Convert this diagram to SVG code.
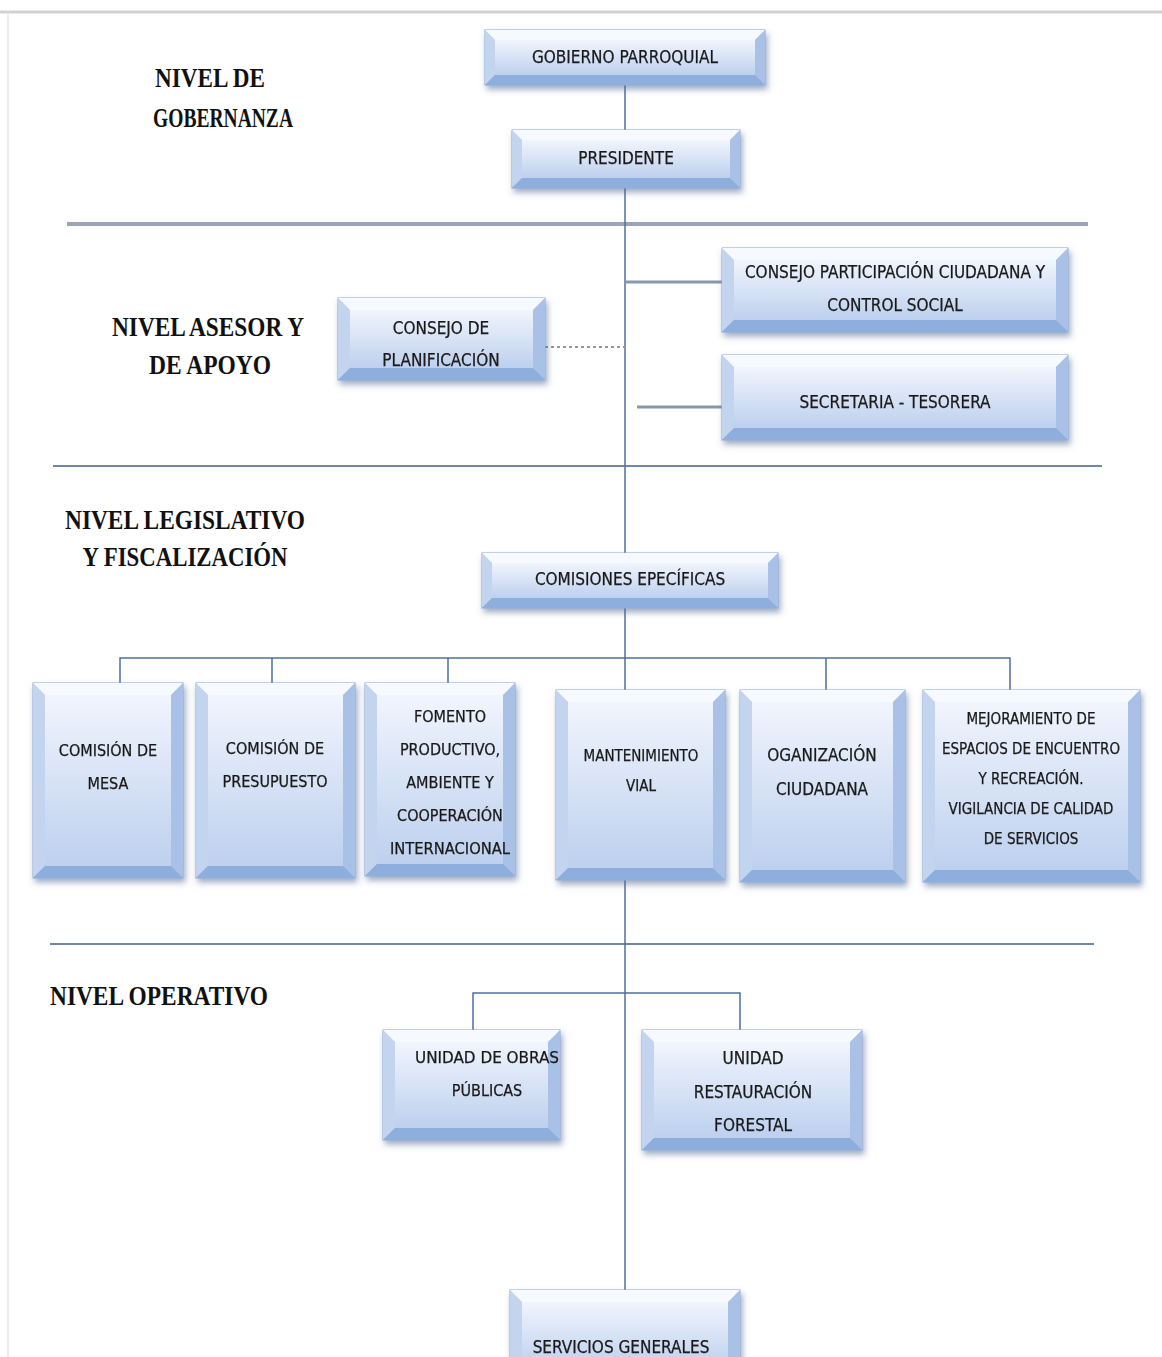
<svg xmlns="http://www.w3.org/2000/svg" width="1162" height="1357" viewBox="0 0 1162 1357">
<defs>
<linearGradient id="gOut" x1="0" y1="0" x2="0" y2="1"><stop offset="0" stop-color="#dfe9f8"/><stop offset="1" stop-color="#9fbbe4"/></linearGradient>
<linearGradient id="gIn" x1="0" y1="0" x2="0" y2="1"><stop offset="0" stop-color="#f1f5fd"/><stop offset="1" stop-color="#bdd0ee"/></linearGradient>
<filter id="sh" x="-10%" y="-10%" width="125%" height="130%"><feGaussianBlur in="SourceAlpha" stdDeviation="3"/><feOffset dx="2" dy="4" result="b"/><feFlood flood-color="#4a6793" flood-opacity="0.55"/><feComposite in2="b" operator="in"/><feMerge><feMergeNode/><feMergeNode in="SourceGraphic"/></feMerge></filter>
</defs>
<style>
.o{fill:url(#gOut);stroke:#8eaad6;stroke-width:1}
.i{fill:url(#gIn)}
.bt{fill:#f6f9fe}
.bl{fill:#c3d4ef}
.br{fill:#a9c1e6}
.bb{fill:#8eaedd}
.t{font-family:"Liberation Sans Narrow","DejaVu Sans Condensed","Liberation Sans",sans-serif;font-size:17px;fill:#1a1a1a;stroke:#1a1a1a;stroke-width:0.25;text-anchor:middle}
.s{font-size:15px}
.m{font-size:16px}
.lv{font-family:"Liberation Serif",serif;font-weight:bold;font-size:28px;fill:#111;text-anchor:middle}
.c{stroke:#4f6f9e;stroke-width:1.5;fill:none}
.cg{stroke:#8797b0;stroke-width:3;fill:none}
.sep{stroke:#7186a8;stroke-width:2}
</style>
<rect width="1162" height="1357" fill="#fff"/>
<line x1="0" y1="12" x2="1162" y2="12" stroke="#d2d2d2" stroke-width="3"/>
<line x1="8" y1="14" x2="8" y2="1357" stroke="#eeeeee" stroke-width="2"/>
<g id="separators">
<line x1="67" y1="224" x2="1088" y2="224" stroke="#9aa4b4" stroke-width="4"/>
<line class="sep" x1="53" y1="466" x2="1102" y2="466"/>
<line class="sep" x1="50" y1="944" x2="1094" y2="944"/>
</g>
<g id="levels">
<text class="lv" x="210" y="87" textLength="110" lengthAdjust="spacingAndGlyphs">NIVEL DE</text>
<text class="lv" x="223" y="127" textLength="140" lengthAdjust="spacingAndGlyphs">GOBERNANZA</text>
<text class="lv" x="208" y="336" textLength="192" lengthAdjust="spacingAndGlyphs">NIVEL ASESOR Y</text>
<text class="lv" x="210" y="374" textLength="122" lengthAdjust="spacingAndGlyphs">DE APOYO</text>
<text class="lv" x="185" y="529" textLength="240" lengthAdjust="spacingAndGlyphs">NIVEL LEGISLATIVO</text>
<text class="lv" x="185" y="566" textLength="205" lengthAdjust="spacingAndGlyphs">Y FISCALIZACIÓN</text>
<text class="lv" x="159" y="1005" textLength="218" lengthAdjust="spacingAndGlyphs">NIVEL OPERATIVO</text>
</g>
<g id="connectors">
<line class="c" x1="625" y1="85" x2="625" y2="1290"/>
<line class="cg" x1="625" y1="282" x2="722" y2="282"/>
<line class="cg" x1="637" y1="407" x2="722" y2="407"/>
<line x1="545" y1="347" x2="628" y2="347" stroke="#8797b0" stroke-width="2" stroke-dasharray="3 3"/>
<path class="c" d="M120 683V658H1010V690M272 658V683M448 658V683M826 658V690"/>
<path class="c" d="M473 1030V993H740V1030"/>
</g>
<g id="n-gobierno" filter="url(#sh)">
<rect class="o" x="485" y="30" width="280" height="55"/>
<polygon class="bt" points="485,30 765,30 755,40 495,40"/><polygon class="bl" points="485,30 495,40 495,75 485,85"/><polygon class="br" points="765,30 765,85 755,75 755,40"/><polygon class="bb" points="485,85 495,75 755,75 765,85"/>
<rect class="i" x="495" y="40" width="260" height="35"/>
<text class="t" x="625" y="63">GOBIERNO PARROQUIAL</text>
</g>
<g id="n-presidente" filter="url(#sh)">
<rect class="o" x="512" y="130" width="228" height="58"/>
<polygon class="bt" points="512,130 740,130 730,140 522,140"/><polygon class="bl" points="512,130 522,140 522,178 512,188"/><polygon class="br" points="740,130 740,188 730,178 730,140"/><polygon class="bb" points="512,188 522,178 730,178 740,188"/>
<rect class="i" x="522" y="140" width="208" height="38"/>
<text class="t" x="626" y="164">PRESIDENTE</text>
</g>
<g id="n-planificacion" filter="url(#sh)">
<rect class="o" x="338" y="298" width="207" height="82"/>
<polygon class="bt" points="338,298 545,298 533,310 350,310"/><polygon class="bl" points="338,298 350,310 350,368 338,380"/><polygon class="br" points="545,298 545,380 533,368 533,310"/><polygon class="bb" points="338,380 350,368 533,368 545,380"/>
<rect class="i" x="350" y="310" width="183" height="58"/>
<text class="t" x="441" y="334">CONSEJO DE</text>
<text class="t" x="441" y="366">PLANIFICACIÓN</text>
</g>
<g id="n-participacion" filter="url(#sh)">
<rect class="o" x="722" y="248" width="346" height="84"/>
<polygon class="bt" points="722,248 1068,248 1056,260 734,260"/><polygon class="bl" points="722,248 734,260 734,320 722,332"/><polygon class="br" points="1068,248 1068,332 1056,320 1056,260"/><polygon class="bb" points="722,332 734,320 1056,320 1068,332"/>
<rect class="i" x="734" y="260" width="322" height="60"/>
<text class="t" x="895" y="278">CONSEJO PARTICIPACIÓN CIUDADANA Y</text>
<text class="t" x="895" y="311">CONTROL SOCIAL</text>
</g>
<g id="n-secretaria" filter="url(#sh)">
<rect class="o" x="722" y="355" width="346" height="85"/>
<polygon class="bt" points="722,355 1068,355 1056,367 734,367"/><polygon class="bl" points="722,355 734,367 734,428 722,440"/><polygon class="br" points="1068,355 1068,440 1056,428 1056,367"/><polygon class="bb" points="722,440 734,428 1056,428 1068,440"/>
<rect class="i" x="734" y="367" width="322" height="61"/>
<text class="t" x="895" y="408">SECRETARIA - TESORERA</text>
</g>
<g id="n-comisiones" filter="url(#sh)">
<rect class="o" x="482" y="553" width="296" height="55"/>
<polygon class="bt" points="482,553 778,553 768,563 492,563"/><polygon class="bl" points="482,553 492,563 492,598 482,608"/><polygon class="br" points="778,553 778,608 768,598 768,563"/><polygon class="bb" points="482,608 492,598 768,598 778,608"/>
<rect class="i" x="492" y="563" width="276" height="35"/>
<text class="t" x="630" y="585">COMISIONES EPECÍFICAS</text>
</g>
<g id="n-mesa" filter="url(#sh)">
<rect class="o" x="33" y="683" width="150" height="195"/>
<polygon class="bt" points="33,683 183,683 171,695 45,695"/><polygon class="bl" points="33,683 45,695 45,866 33,878"/><polygon class="br" points="183,683 183,878 171,866 171,695"/><polygon class="bb" points="33,878 45,866 171,866 183,878"/>
<rect class="i" x="45" y="695" width="126" height="171"/>
<text class="t m" x="108" y="756">COMISIÓN DE</text>
<text class="t m" x="108" y="789">MESA</text>
</g>
<g id="n-presupuesto" filter="url(#sh)">
<rect class="o" x="196" y="683" width="159" height="195"/>
<polygon class="bt" points="196,683 355,683 343,695 208,695"/><polygon class="bl" points="196,683 208,695 208,866 196,878"/><polygon class="br" points="355,683 355,878 343,866 343,695"/><polygon class="bb" points="196,878 208,866 343,866 355,878"/>
<rect class="i" x="208" y="695" width="135" height="171"/>
<text class="t m" x="275" y="754">COMISIÓN DE</text>
<text class="t m" x="275" y="787">PRESUPUESTO</text>
</g>
<g id="n-fomento" filter="url(#sh)">
<rect class="o" x="365" y="683" width="150" height="193"/>
<polygon class="bt" points="365,683 515,683 503,695 377,695"/><polygon class="bl" points="365,683 377,695 377,864 365,876"/><polygon class="br" points="515,683 515,876 503,864 503,695"/><polygon class="bb" points="365,876 377,864 503,864 515,876"/>
<rect class="i" x="377" y="695" width="126" height="169"/>
<text class="t m" x="450" y="722">FOMENTO</text>
<text class="t m" x="450" y="755">PRODUCTIVO,</text>
<text class="t m" x="450" y="788">AMBIENTE Y</text>
<text class="t m" x="450" y="821">COOPERACIÓN</text>
<text class="t m" x="450" y="854" textLength="120" lengthAdjust="spacingAndGlyphs">INTERNACIONAL</text>
</g>
<g id="n-vial" filter="url(#sh)">
<rect class="o" x="556" y="690" width="169" height="190"/>
<polygon class="bt" points="556,690 725,690 713,702 568,702"/><polygon class="bl" points="556,690 568,702 568,868 556,880"/><polygon class="br" points="725,690 725,880 713,868 713,702"/><polygon class="bb" points="556,880 568,868 713,868 725,880"/>
<rect class="i" x="568" y="702" width="145" height="166"/>
<text class="t s" x="641" y="761">MANTENIMIENTO</text>
<text class="t s" x="641" y="791">VIAL</text>
</g>
<g id="n-organizacion" filter="url(#sh)">
<rect class="o" x="740" y="690" width="165" height="192"/>
<polygon class="bt" points="740,690 905,690 893,702 752,702"/><polygon class="bl" points="740,690 752,702 752,870 740,882"/><polygon class="br" points="905,690 905,882 893,870 893,702"/><polygon class="bb" points="740,882 752,870 893,870 905,882"/>
<rect class="i" x="752" y="702" width="141" height="168"/>
<text class="t" x="822" y="761">OGANIZACIÓN</text>
<text class="t" x="822" y="795">CIUDADANA</text>
</g>
<g id="n-mejoramiento" filter="url(#sh)">
<rect class="o" x="923" y="690" width="217" height="192"/>
<polygon class="bt" points="923,690 1140,690 1128,702 935,702"/><polygon class="bl" points="923,690 935,702 935,870 923,882"/><polygon class="br" points="1140,690 1140,882 1128,870 1128,702"/><polygon class="bb" points="923,882 935,870 1128,870 1140,882"/>
<rect class="i" x="935" y="702" width="193" height="168"/>
<text class="t s" x="1031" y="724">MEJORAMIENTO DE</text>
<text class="t s" x="1031" y="754">ESPACIOS DE ENCUENTRO</text>
<text class="t s" x="1031" y="784">Y RECREACIÓN.</text>
<text class="t s" x="1031" y="814">VIGILANCIA DE CALIDAD</text>
<text class="t s" x="1031" y="844">DE SERVICIOS</text>
</g>
<g id="n-obras" filter="url(#sh)">
<rect class="o" x="383" y="1030" width="177" height="110"/>
<polygon class="bt" points="383,1030 560,1030 548,1042 395,1042"/><polygon class="bl" points="383,1030 395,1042 395,1128 383,1140"/><polygon class="br" points="560,1030 560,1140 548,1128 548,1042"/><polygon class="bb" points="383,1140 395,1128 548,1128 560,1140"/>
<rect class="i" x="395" y="1042" width="153" height="86"/>
<text class="t m" x="487" y="1063" textLength="144" lengthAdjust="spacingAndGlyphs">UNIDAD DE OBRAS</text>
<text class="t m" x="487" y="1096">PÚBLICAS</text>
</g>
<g id="n-restauracion" filter="url(#sh)">
<rect class="o" x="642" y="1030" width="220" height="120"/>
<polygon class="bt" points="642,1030 862,1030 850,1042 654,1042"/><polygon class="bl" points="642,1030 654,1042 654,1138 642,1150"/><polygon class="br" points="862,1030 862,1150 850,1138 850,1042"/><polygon class="bb" points="642,1150 654,1138 850,1138 862,1150"/>
<rect class="i" x="654" y="1042" width="196" height="96"/>
<text class="t" x="753" y="1064">UNIDAD</text>
<text class="t" x="753" y="1098">RESTAURACIÓN</text>
<text class="t" x="753" y="1131">FORESTAL</text>
</g>
<g id="n-servicios" filter="url(#sh)">
<rect class="o" x="510" y="1290" width="230" height="90"/>
<polygon class="bt" points="510,1290 740,1290 728,1302 522,1302"/><polygon class="bl" points="510,1290 522,1302 522,1368 510,1380"/><polygon class="br" points="740,1290 740,1380 728,1368 728,1302"/>
<rect class="i" x="522" y="1302" width="206" height="66"/>
<text class="t" x="621" y="1353">SERVICIOS GENERALES</text>
</g>
</svg>
